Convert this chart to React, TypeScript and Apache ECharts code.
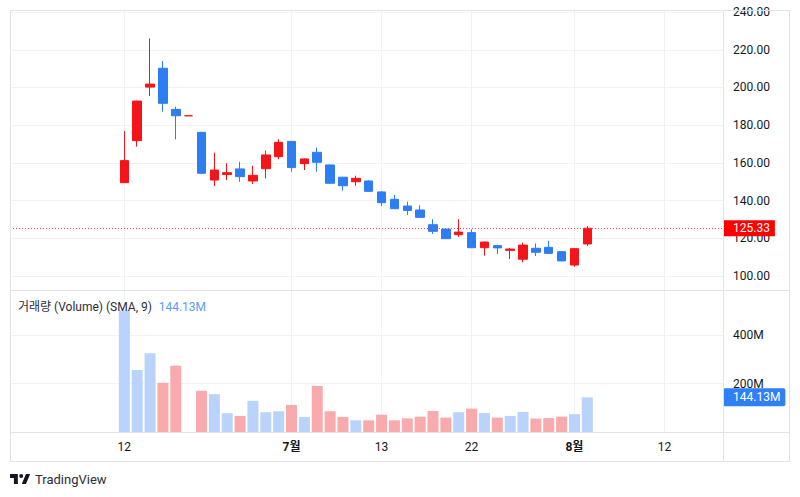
import React, { useEffect, useRef } from 'react';
import * as echarts from 'echarts';

// ---- data ----
const openP = [149.5, 171.8, 200.2, 210.2, 188.4, 185, 176.2, 150.9, 153.8, 156.8, 150.4, 156.9, 163.3, 171.4, 159.6, 165.6, 158.9, 152.4, 150, 150.4, 144.6, 140.7, 137.1, 135, 127.2, 124.9, 121.9, 123, 115, 116.1, 113.6, 108.9, 114.7, 115.2, 112.9, 105.8, 117];
const closeP = [161.2, 192.8, 201.8, 191.6, 185, 185, 154.5, 156.2, 154.8, 152.7, 153.4, 164.2, 170.9, 157.5, 162.1, 160.3, 149.2, 147.9, 151.8, 144.9, 138.9, 135.7, 134.8, 131.1, 123.7, 119.8, 123.3, 115, 118, 114.9, 114.3, 116.4, 112.6, 112, 108, 114.5, 125.33];
const lowP = [149.5, 168.6, 195.5, 187.2, 172.5, 185, 154, 147.7, 150.9, 150, 148.8, 151.8, 161.9, 155.3, 156.2, 155.3, 149, 145.3, 147.9, 144.7, 137.1, 135.5, 132.4, 131, 122.3, 119.6, 120.8, 115, 110.8, 111.7, 109, 107.3, 110.6, 111.8, 107.8, 104.9, 115.9];
const highP = [176.9, 193, 226, 214, 189.8, 185, 176.5, 165.4, 159.8, 160.6, 158.5, 166.5, 172.5, 171.6, 162.3, 168.1, 159, 152.6, 153.2, 150.8, 145, 143, 139.4, 137.5, 130.1, 125.3, 130.1, 124.8, 118.3, 116.5, 114.8, 117.7, 117.3, 118.7, 113.2, 114.7, 126.5];
const volumeM = [500, 256, 325, 204, 274, 1, 171, 157, 79, 68, 130, 83, 87, 113, 64, 191, 87, 64, 50, 50, 73, 50, 58, 65, 88, 61, 83, 98, 80, 61, 68, 84, 57, 59, 65, 75, 144.13];

const tickIndex = [0, 13, 20, 27, 35, 42];
const tickLabels = ['12', '7월', '13', '22', '8월', '12'];
const priceTicks = [100, 120, 140, 160, 180, 200, 220, 240];
const volumeTicks = [200, 400];
const lastPrice = 125.33;
const lastVolume = 144.13;
const legendTitle = '거래량 (Volume) (SMA, 9)';

const UP = '#f5141a';
const DOWN = '#2d7df3';
const VOL_UP = '#b9d3fa';
const VOL_DOWN = '#f9aaac';
const FONT = 'Roboto, "Noto Sans CJK KR", sans-serif';

const LOGO_D = 'M14 22H7V11H0V4h14z M16.5 7.5a3.5 3.5 0 1 0 7 0a3.5 3.5 0 1 0 -7 0z M28.5 4H36L28.5 22H21z';
echarts.graphic.registerShape('tvlogo', echarts.graphic.extendPath(LOGO_D, {}) as any);

export default function App() {
  const ref = useRef<HTMLDivElement>(null);
  useEffect(() => {
    document.body.style.margin = '0';
    const chart = echarts.init(ref.current!, null, { renderer: 'svg' });
    const candles = openP.map((o, i) => [i, o, closeP[i], lowP[i], highP[i]]);
    const vols = volumeM.map((v, i) => ({
      value: [i, v],
      itemStyle: { color: closeP[i] >= openP[i] ? VOL_UP : VOL_DOWN },
    }));
    const gridColor = '#f1f2f4';
    const frameColor = '#e0e3eb';
    const xFmt = (v: number) => {
      const k = tickIndex.indexOf(Math.round(v));
      if (k < 0) return '';
      const t = tickLabels[k];
      return t.indexOf('월') >= 0 ? `{b|${t}}` : t;
    };
    const option: any = {
      animation: false,
      backgroundColor: '#ffffff',
      textStyle: { fontFamily: FONT },
      grid: [
        { left: 10, top: 10, width: 713, height: 280 },
        { left: 10, top: 290, width: 713, height: 142.5 },
      ],
      xAxis: [
        {
          type: 'value', gridIndex: 0, min: -8.89, max: 46.55,
          axisLine: { show: false },
          axisTick: { show: false, customValues: tickIndex },
          axisLabel: { show: false, customValues: tickIndex },
          splitLine: { show: true, lineStyle: { color: gridColor } },
        },
        {
          type: 'value', gridIndex: 1, min: -8.89, max: 46.55,
          axisLine: { show: false },
          axisTick: { show: false, customValues: tickIndex },
          axisLabel: {
            show: true, customValues: tickIndex, formatter: xFmt, margin: 8,
            color: '#131722', fontSize: 12, fontFamily: FONT,
            rich: { b: { fontWeight: 'bold', fontSize: 12, color: '#131722', fontFamily: FONT } },
          },
          splitLine: { show: true, lineStyle: { color: gridColor } },
        },
      ],
      yAxis: [
        {
          type: 'value', gridIndex: 0, position: 'right', min: 92.57, max: 241.1,
          axisLine: { show: false },
          axisTick: { show: false, customValues: priceTicks },
          axisLabel: {
            customValues: priceTicks, formatter: (v: number) => v.toFixed(2),
            margin: 10, align: 'left', color: '#131722', fontSize: 12, fontFamily: FONT,
          },
          splitLine: { show: true, lineStyle: { color: gridColor } },
        },
        {
          type: 'value', gridIndex: 1, position: 'right', min: 0, max: 584,
          axisLine: { show: false },
          axisTick: { show: false, customValues: volumeTicks },
          axisLabel: {
            customValues: volumeTicks, formatter: (v: number) => `${v}M`,
            margin: 10, align: 'left', color: '#131722', fontSize: 12, fontFamily: FONT,
          },
          splitLine: { show: true, lineStyle: { color: gridColor } },
        },
      ],
      series: [
        {
          type: 'candlestick', xAxisIndex: 0, yAxisIndex: 0, barWidth: 9,
          data: candles,
          itemStyle: { color: UP, color0: DOWN, borderColor: UP, borderColor0: DOWN, borderWidth: 1 },
          markLine: {
            silent: true, symbol: 'none', animation: false,
            lineStyle: { color: '#f0464b', type: [1, 2], width: 1 },
            label: {
              show: true, position: 'end', distance: 0, formatter: lastPrice.toFixed(2),
              color: '#ffffff', backgroundColor: '#ff0000', padding: [2, 5, 2, 10],
              fontSize: 12, lineHeight: 12, fontFamily: FONT,
            },
            data: [{ yAxis: lastPrice }],
          },
        },
        {
          type: 'bar', xAxisIndex: 1, yAxisIndex: 1, barWidth: 11,
          data: vols,
          markLine: {
            silent: true, symbol: 'none', animation: false,
            lineStyle: { color: 'rgba(0,0,0,0)', width: 0 },
            label: {
              show: true, position: 'end', distance: 0, formatter: `${lastVolume.toFixed(2)}M`,
              color: '#ffffff', backgroundColor: '#2f7ff5', padding: [3, 5, 3, 10], borderRadius: 2,
              fontSize: 12, lineHeight: 12, fontFamily: FONT,
            },
            data: [{ yAxis: lastVolume }],
          },
        },
      ],
      graphic: [
        { type: 'rect', silent: true, shape: { x: 10.5, y: 10.5, width: 779, height: 451 }, style: { fill: 'none', stroke: frameColor, lineWidth: 1 }, z: 10 },
        { type: 'line', silent: true, shape: { x1: 723.5, y1: 10, x2: 723.5, y2: 461 }, style: { stroke: frameColor, lineWidth: 1 }, z: 10 },
        { type: 'line', silent: true, shape: { x1: 10, y1: 290.5, x2: 789, y2: 290.5 }, style: { stroke: frameColor, lineWidth: 1 }, z: 10 },
        { type: 'line', silent: true, shape: { x1: 10, y1: 432.5, x2: 789, y2: 432.5 }, style: { stroke: frameColor, lineWidth: 1 }, z: 10 },
        {
          type: 'text', silent: true, x: 18, y: 307, z: 10,
          style: {
            text: `{a|${legendTitle}}  {b|${lastVolume.toFixed(2)}M}`,
            verticalAlign: 'middle',
            rich: {
              a: { fontSize: 12, fill: '#2a2e39', fontFamily: FONT },
              b: { fontSize: 12, fill: '#5b9bf5', fontFamily: FONT },
            },
          },
        },
        { type: 'tvlogo', silent: true, x: 10, y: 471.8, scaleX: 0.56, scaleY: 0.56, style: { fill: '#131722' }, z: 10 },
        {
          type: 'text', silent: true, x: 35, y: 479, z: 10,
          style: { text: 'TradingView', fontSize: 13, fill: '#2a2e39', verticalAlign: 'middle', fontFamily: FONT },
        },
      ],
    };
    chart.setOption(option);
    return () => chart.dispose();
  }, []);
  return <div ref={ref} style={{ position: 'fixed', left: 0, top: 0, width: 800, height: 497 }} />;
}
